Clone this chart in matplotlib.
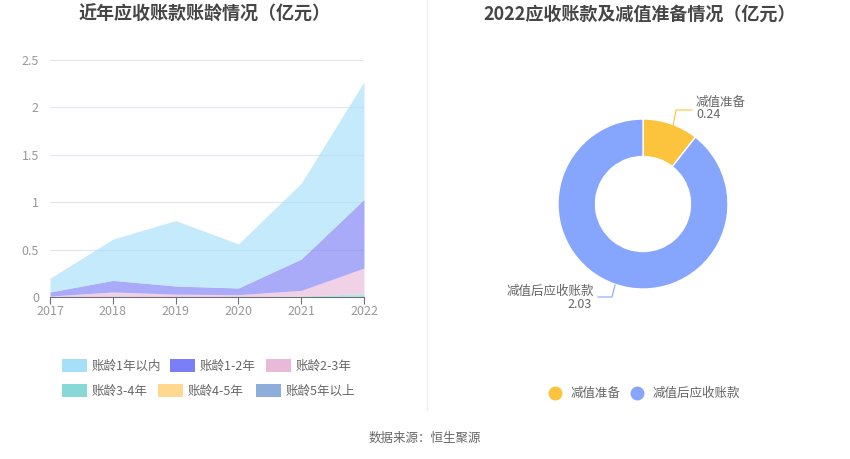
import numpy as np
import matplotlib
matplotlib.use("Agg")
import matplotlib.pyplot as plt
from matplotlib.patches import Rectangle
from matplotlib.lines import Line2D

plt.rcParams['font.family'] = ['Noto Sans CJK SC', 'DejaVu Sans']

years = ["2017", "2018", "2019", "2020", "2021", "2022"]
age_labels = ["账龄1年以内", "账龄1-2年", "账龄2-3年", "账龄3-4年", "账龄4-5年", "账龄5年以上"]
age_within1 = [0.145, 0.435, 0.69, 0.465, 0.80, 1.24]
age_1_2 = [0.043, 0.122, 0.086, 0.07, 0.33, 0.725]
age_2_3 = [0.01, 0.05, 0.028, 0.023, 0.06, 0.27]
age_3_4 = [0.0, 0.003, 0.002, 0.002, 0.01, 0.035]
age_4_5 = [0.0, 0.0, 0.0, 0.0, 0.0, 0.0]
age_5up = [0.0, 0.0, 0.0, 0.0, 0.0, 0.0]
age_colors = ["#a6dff9", "#7b7ff7", "#e8b9d8", "#88d8d8", "#ffd88f", "#8dadda"]

pie_labels = ["减值准备", "减值后应收账款"]
pie_values = [0.24, 2.03]
pie_colors = ["#fcc43c", "#86a6fe"]

W, H = 850, 459
fig = plt.figure(figsize=(8.5, 4.59), dpi=100)


def fx(px):
    return px / W


def fy(py):
    return 1 - py / H


# ---- left: stacked area ----
ax = fig.add_axes([fx(50), fy(297), fx(364) - fx(50), fy(60) - fy(297)])
x = np.arange(len(years))
series = [age_5up, age_4_5, age_3_4, age_2_3, age_1_2, age_within1]
cols = age_colors[::-1]
base = np.zeros(len(years))
for s, c in zip(series, cols):
    top = base + np.array(s)
    ax.fill_between(x, base, top, color=c, alpha=0.65, lw=0)
    base = top
ax.set_xlim(0, len(years) - 1)
ax.set_ylim(0, 2.5)
ax.set_yticks([0, 0.5, 1, 1.5, 2, 2.5])
ax.set_yticklabels(["0", "0.5", "1", "1.5", "2", "2.5"])
ax.set_xticks(x)
ax.set_xticklabels(years)
ax.tick_params(axis='y', length=0, labelsize=9, labelcolor="#999999", pad=8)
ax.tick_params(axis='x', length=5, color="#6e7079", labelsize=9, labelcolor="#999999", pad=1)
ax.grid(axis='y', color="#e0e6f1", lw=0.8)
ax.set_axisbelow(True)
for sp in ["top", "right", "left"]:
    ax.spines[sp].set_visible(False)
ax.spines["bottom"].set_color("#6e7079")

fig.text(fx(205), fy(14), "近年应收账款账龄情况（亿元）", ha="center", va="center",
         fontsize=13, fontweight="bold", color="#464646")

# left legend
leg_pos = [(62, 366), (170, 366), (266, 366), (62, 391), (158, 391), (256, 391)]
for (px, py), lab, c in zip(leg_pos, age_labels, age_colors):
    fig.patches.append(Rectangle((fx(px), fy(py + 6)), fx(25), fy(0) - fy(13),
                                 transform=fig.transFigure, color=c, lw=0))
    fig.text(fx(px + 30), fy(py), lab, ha="left", va="center", fontsize=9, color="#666666")

# divider
fig.add_artist(Line2D([fx(427), fx(427)], [fy(0), fy(410)], transform=fig.transFigure,
                      color="#eeeeee", lw=1))

# ---- right: donut ----
cx, cy = 643, 204
pax = fig.add_axes([fx(cx - 100), fy(cy + 100), fx(200), fy(0) - fy(200)])
pax.pie(pie_values, colors=pie_colors, startangle=90, counterclock=False, radius=0.85,
        wedgeprops=dict(width=0.375, edgecolor="white", linewidth=1))
pax.set_xlim(-1, 1)
pax.set_ylim(-1, 1)
pax.set_aspect("equal")
pax.axis("off")


def d(px, py):
    return ((px - cx) / 100, (cy - py) / 100)


pax.add_line(Line2D(*zip(d(673, 126), d(676, 110), d(692, 110)), color=pie_colors[0], lw=0.8, clip_on=False))
pax.add_line(Line2D(*zip(d(615, 285), d(612, 297), d(598, 297)), color=pie_colors[1], lw=0.8, clip_on=False))

fig.text(fx(696), fy(102), pie_labels[0], ha="left", va="center", fontsize=9, color="#666666")
fig.text(fx(696), fy(115), "%.2f" % pie_values[0], ha="left", va="center", fontsize=9, color="#666666")
fig.text(fx(594), fy(291), pie_labels[1], ha="right", va="center", fontsize=9, color="#666666")
fig.text(fx(592), fy(304), "%.2f" % pie_values[1], ha="right", va="center", fontsize=9, color="#666666")

fig.text(fx(640), fy(14), "2022应收账款及减值准备情况（亿元）", ha="center", va="center",
         fontsize=13, fontweight="bold", color="#464646")

# right legend
for (px, py), lab, c in zip([(555, 393), (637, 393)], pie_labels, pie_colors):
    fig.add_artist(Line2D([fx(px)], [fy(py)], marker="o", ms=9, color=c, lw=0, transform=fig.transFigure))
    fig.text(fx(px + 16), fy(py), lab, ha="left", va="center", fontsize=9, color="#666666")

fig.text(fx(425), fy(438), "数据来源：恒生聚源", ha="center", va="center", fontsize=9, color="#666666")

fig.savefig("out.png", dpi=100)
